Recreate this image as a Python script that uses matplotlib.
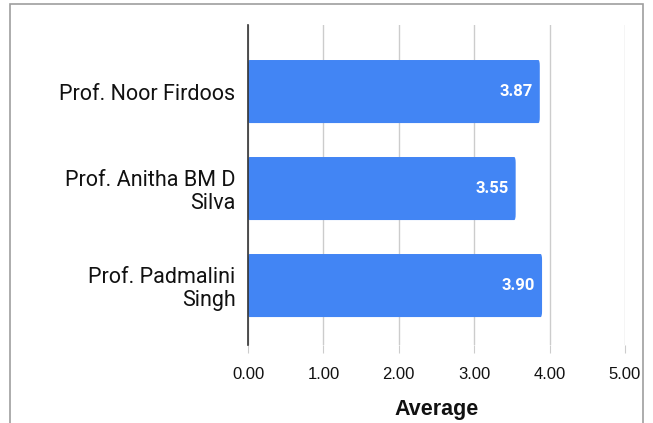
import matplotlib.pyplot as plt
from matplotlib.patches import Rectangle, FancyBboxPatch

plt.rcParams['font.family'] = ['Roboto', 'DejaVu Sans']

# data
names = ["Prof. Noor Firdoos", "Prof. Anitha BM D\nSilva", "Prof. Padmalini\nSingh"]
averages = [3.87, 3.55, 3.90]
xticks = [0, 1, 2, 3, 4, 5]

bar_color = "#4285F4"

fig = plt.figure(figsize=(6.53, 4.23), dpi=100)
ax = fig.add_axes([0.3798, 0.1844, 0.5773, 0.7565])

# outer border like the sheets chart frame
fig.patches.append(Rectangle((10 / 653, -0.05), 633 / 653, 1.05 - 4 / 423,
                             transform=fig.transFigure, fill=False,
                             edgecolor="#9e9e9e", linewidth=1.2))

ypos = list(range(len(names)))
bar_h = 0.65
for y, v in zip(ypos, averages):
    ax.add_patch(FancyBboxPatch((0, y - bar_h / 2), v, bar_h,
                                boxstyle="round,pad=0,rounding_size=0.02",
                                mutation_aspect=3.0,
                                facecolor=bar_color, edgecolor="none", zorder=3))
    ax.text(v - 0.09, y, f"{v:.2f}", color="white", fontsize=12,
            fontweight="bold", ha="right", va="center", zorder=4)

ax.set_xlim(0, 5)
ax.set_ylim(2 + 0.613, -0.686)
ax.set_yticks(ypos)
ax.set_yticklabels(names, fontsize=15.5, color="#111111", linespacing=1.15)
ax.set_xticks(xticks)
ax.set_xticklabels([f"{t:.2f}" for t in xticks], fontsize=12, color="#111111",
                   family=["Liberation Sans", "DejaVu Sans"])

ax.grid(axis="x", color="#cccccc", linewidth=1, zorder=0)
ax.tick_params(axis="x", length=6, color="#cccccc", pad=10)
ax.tick_params(axis="y", length=0, pad=9)
for s in ["top", "right", "bottom"]:
    ax.spines[s].set_visible(False)
ax.spines["left"].set_color("#333333")
ax.spines["left"].set_linewidth(1.2)
ax.spines["left"].set_zorder(5)

ax.set_xlabel("Average", fontsize=15.5, fontweight="bold", color="#111111", labelpad=12,
              family=["Liberation Sans", "DejaVu Sans"])

fig.savefig("out.png", dpi=100)
